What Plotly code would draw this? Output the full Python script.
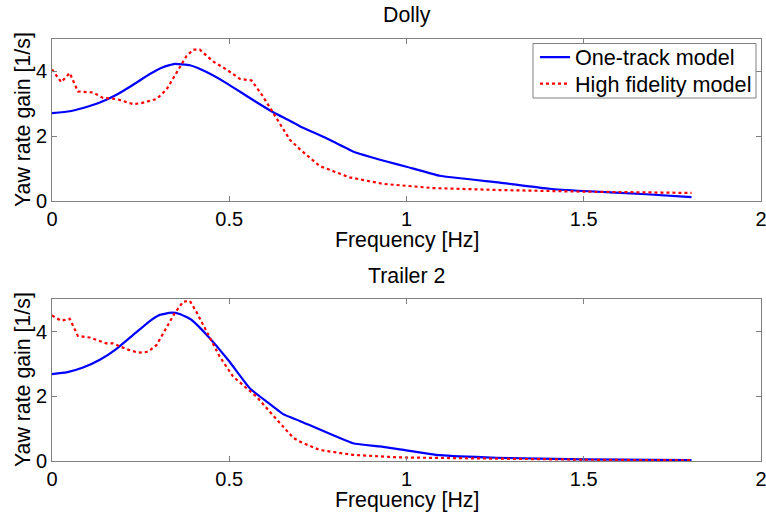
import plotly.graph_objects as go
from plotly.subplots import make_subplots

# Dolly
dolly_one_f = [0, 0.050, 0.0875, 0.135, 0.182, 0.229, 0.276, 0.313, 0.346, 0.389, 0.436, 0.492, 0.558, 0.624, 0.671, 0.699, 0.774, 0.849, 0.944, 1.0, 1.094, 1.263, 1.404, 1.5, 1.677, 1.804]
dolly_one_g = [2.71, 2.77, 2.87, 3.04, 3.28, 3.59, 3.92, 4.13, 4.23, 4.19, 3.98, 3.64, 3.18, 2.74, 2.48, 2.31, 1.94, 1.53, 1.22, 1.06, 0.78, 0.57, 0.38, 0.31, 0.21, 0.12]
dolly_hf_f = [0, 0.026, 0.05, 0.073, 0.116, 0.144, 0.182, 0.229, 0.252, 0.295, 0.323, 0.351, 0.379, 0.398, 0.417, 0.454, 0.492, 0.530, 0.563, 0.595, 0.633, 0.671, 0.699, 0.755, 0.84, 0.934, 1.075, 1.263, 1.5, 1.804]
dolly_hf_g = [4.06, 3.67, 3.95, 3.38, 3.35, 3.18, 3.15, 2.99, 3.02, 3.15, 3.44, 3.95, 4.47, 4.67, 4.67, 4.31, 4.06, 3.77, 3.72, 3.23, 2.58, 1.89, 1.60, 1.08, 0.73, 0.53, 0.40, 0.34, 0.29, 0.25]

# Trailer 2
tr_one_f = [0, 0.041, 0.0875, 0.135, 0.182, 0.229, 0.276, 0.304, 0.337, 0.360, 0.393, 0.445, 0.501, 0.558, 0.605, 0.652, 0.699, 0.849, 0.925, 0.981, 1.094, 1.254, 1.5, 1.804]
tr_one_g = [2.69, 2.74, 2.89, 3.13, 3.47, 3.90, 4.33, 4.52, 4.59, 4.55, 4.37, 3.80, 3.07, 2.25, 1.84, 1.45, 1.24, 0.55, 0.45, 0.36, 0.18, 0.10, 0.05, 0.03]
tr_hf_f = [0, 0.026, 0.05, 0.073, 0.106, 0.153, 0.172, 0.210, 0.243, 0.271, 0.295, 0.323, 0.346, 0.370, 0.389, 0.407, 0.436, 0.473, 0.511, 0.549, 0.577, 0.614, 0.652, 0.680, 0.699, 0.755, 0.849, 0.981, 1.5, 1.804]
tr_hf_g = [4.50, 4.34, 4.40, 3.87, 3.82, 3.64, 3.64, 3.46, 3.35, 3.38, 3.59, 4.11, 4.57, 4.93, 4.95, 4.62, 4.00, 3.23, 2.61, 2.25, 1.99, 1.53, 1.06, 0.72, 0.60, 0.34, 0.19, 0.11, 0.04, 0.02]

x_ticks = [0, 0.5, 1, 1.5, 2]
x_tick_text = ["0", "0.5", "1", "1.5", "2"]
y_ticks = [0, 2, 4]

FONT = "Liberation Sans, Arial, sans-serif"
GRAY = "#808080"

fig = make_subplots(rows=2, cols=1, vertical_spacing=0.233)

panels = [
    (1, dolly_one_f, dolly_one_g, dolly_hf_f, dolly_hf_g, True),
    (2, tr_one_f, tr_one_g, tr_hf_f, tr_hf_g, False),
]
for row, f1, g1, f2, g2, leg in panels:
    fig.add_trace(go.Scatter(x=f1, y=g1, mode="lines", name="One-track model",
                             line=dict(color="#0000ff", width=2.2, shape="spline", smoothing=0.4),
                             showlegend=leg, legend="legend"), row=row, col=1)
    fig.add_trace(go.Scatter(x=f2, y=g2, mode="lines", name="High fidelity model",
                             line=dict(color="#ff0000", width=2.2, dash="dot"),
                             showlegend=leg, legend="legend2"), row=row, col=1)
    fig.update_xaxes(range=[0, 2], tickvals=x_ticks, ticktext=x_tick_text, showgrid=False, zeroline=False,
                     showline=True, linecolor=GRAY, linewidth=1, mirror="ticks", ticks="inside",
                     ticklen=5, tickcolor=GRAY, ticklabeloverflow="allow", automargin=False,
                     tickfont=dict(family=FONT, size=20, color="black"),
                     row=row, col=1)
    fig.update_yaxes(range=[0, 5], tickvals=y_ticks, showgrid=False, zeroline=False,
                     showline=True, linecolor=GRAY, linewidth=1, mirror="ticks", ticks="inside",
                     ticklen=5, tickcolor=GRAY, automargin=False,
                     tickfont=dict(family=FONT, size=20, color="black"),
                     row=row, col=1)


def py(pix):
    return (461 - pix) / 422.0


def px(pix):
    return (pix - 52) / 709.0


leg_common = dict(xanchor="left", yanchor="middle", borderwidth=0, bgcolor="rgba(0,0,0,0)",
                  font=dict(family=FONT, size=21.6), tracegroupgap=0)

fig.update_layout(
    width=766, height=515,
    margin=dict(l=52, r=5, t=39, b=54, autoexpand=False),
    paper_bgcolor="white", plot_bgcolor="white",
    font=dict(family=FONT, size=20, color="black"),
    legend=dict(x=px(535), y=py(57.5), **leg_common),
    legend2=dict(x=px(535), y=py(84), **leg_common),
)
fig.layout.yaxis.domain = [0.616, 1.0]
fig.layout.yaxis2.domain = [0.0, 0.383]

# legend frame
fig.add_shape(type="rect", xref="paper", yref="paper",
              x0=px(533), x1=px(756), y0=py(98), y1=py(43.5),
              line=dict(color=GRAY, width=1), fillcolor="white", layer="below")


def ann(text, x, y, angle=0):
    fig.add_annotation(text=text, x=x, y=y, xref="paper", yref="paper",
                       xanchor="center", yanchor="middle", showarrow=False,
                       textangle=angle, font=dict(family=FONT, size=21.3, color="black"))


ann("Dolly", px(406.5), py(15))
ann("Trailer 2", px(406.5), py(276))
ann("Frequency [Hz]", px(406.5), py(239.5))
ann("Frequency [Hz]", px(406.5), py(499.5))
ann("Yaw rate gain [1/s]", px(23), py(120), -90)
ann("Yaw rate gain [1/s]", px(23), py(380), -90)

fig.write_html("out.html")
